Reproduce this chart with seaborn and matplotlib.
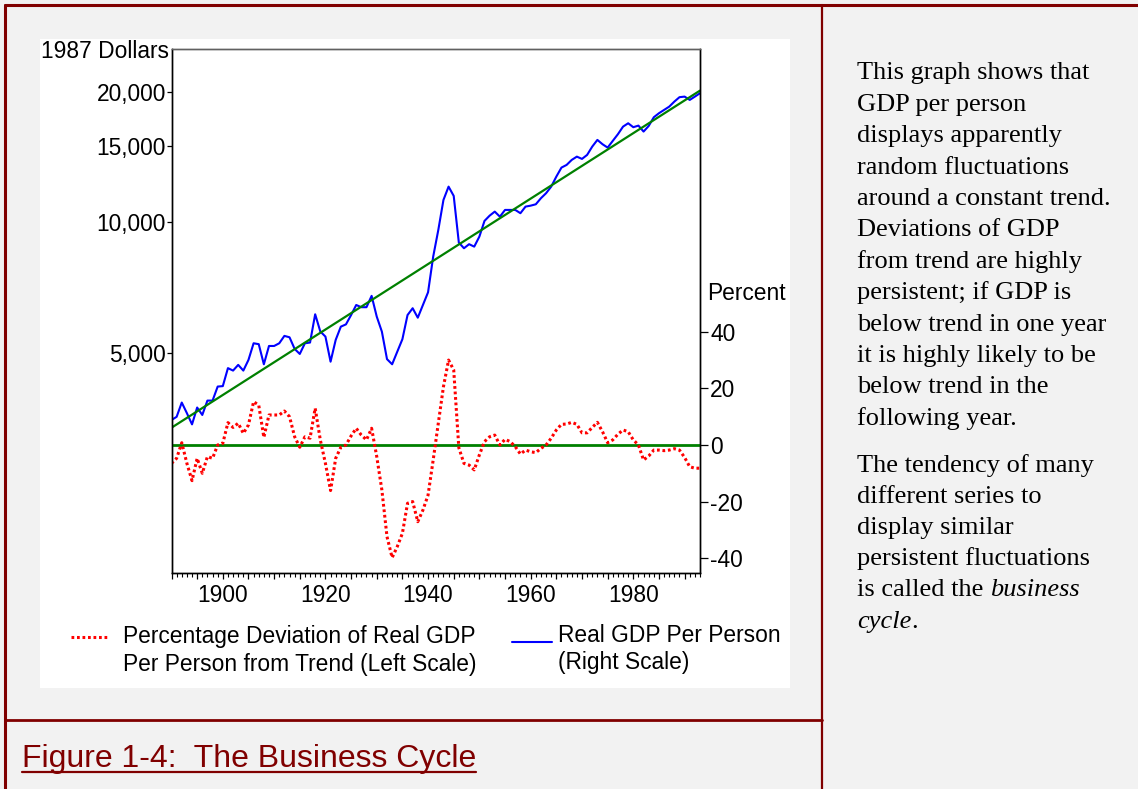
import matplotlib
matplotlib.use('Agg')
import matplotlib.pyplot as plt
import seaborn as sns
from matplotlib.lines import Line2D
from matplotlib.patches import Rectangle
from matplotlib.ticker import FixedLocator, FixedFormatter, MultipleLocator, NullLocator, FuncFormatter

# ---------------- data ----------------
years = list(range(1890, 1994))
gdp_per_person = [
    3500, 3560, 3840, 3630, 3420, 3740, 3595, 3880, 3880, 4180,   # 1890-1899
    4190, 4610, 4550, 4690, 4550, 4815, 5260, 5235, 4705, 5185,   # 1900-1909
    5185, 5260, 5470, 5430, 5105, 4970, 5260, 5280, 6135, 5600,   # 1910-1919
    5450, 4770, 5355, 5745, 5815, 6110, 6445, 6370, 6370, 6765,   # 1920-1929
    6060, 5595, 4835, 4705, 5030, 5375, 6110, 6335, 6025, 6445,   # 1930-1939
    6895, 8330, 9600, 11255, 12080, 11500, 8975, 8710, 8900, 8785,  # 1940-1949
    9265, 10070, 10355, 10580, 10300, 10675, 10675, 10675, 10490, 10865,  # 1950-1959
    10920, 11000, 11360, 11665, 12080, 12740, 13365, 13555, 13920, 14165,  # 1960-1969
    13995, 14295, 14940, 15480, 15130, 14860, 15400, 15955, 16610, 16910,  # 1970-1979
    16560, 16700, 16180, 16670, 17460, 17835, 18150, 18470, 18970, 19420,  # 1980-1989
    19480, 19140, 19480, 19835,                                            # 1990-1993
]
pct_deviation = [
    -6.5, -4.7, 0.8, -6.5, -12.6, -4.7, -10.0, -4.1, -4.7, 0.0,     # 1890-1899
    0.6, 7.9, 6.2, 7.7, 4.1, 7.1, 15.3, 14.1, 2.7, 10.6,            # 1900-1909
    10.6, 10.6, 12.0, 10.0, 2.9, -0.8, 2.9, 2.4, 13.0, 1.8,         # 1910-1919
    -6.5, -16.1, -4.7, -0.8, 0.0, 3.2, 5.9, 3.5, 1.8, 5.9,          # 1920-1929
    -4.1, -15.9, -32.4, -39.8, -35.9, -31.2, -20.6, -20.0, -27.1, -23.0,  # 1930-1939
    -17.7, -5.3, 7.7, 20.6, 30.0, 26.5, -1.0, -6.5, -7.1, -8.8,     # 1940-1949
    -3.5, 1.2, 2.9, 3.5, 0.0, 2.0, 1.2, -0.6, -3.2, -1.8,           # 1950-1959
    -2.4, -2.7, -1.2, 0.0, 2.4, 5.3, 7.3, 7.4, 8.0, 7.3,            # 1960-1969
    4.3, 4.3, 6.2, 8.0, 4.7, 0.8, 1.8, 3.8, 5.3, 4.7,               # 1970-1979
    1.8, 0.0, -5.3, -3.9, -1.8, -1.8, -2.0, -1.8, -1.3, -1.8,       # 1980-1989
    -4.4, -7.7, -8.2, -8.2,                                         # 1990-1993
]
trend_years = [1890, 1993]
trend_values = [3360, 20110]
zero_years = [1890, 1993]
zero_values = [0, 0]

left_ticks = [5000, 10000, 15000, 20000]
left_tick_labels = ['5,000', '10,000', '15,000', '20,000']
right_ticks = [-40, -20, 0, 20, 40]
x_label_every = 20

legend_red = ['Percentage Deviation of Real GDP', 'Per Person from Trend (Left Scale)']
legend_blue = ['Real GDP Per Person', '(Right Scale)']
title_text = 'Figure 1-4:  The Business Cycle'
side_lines_1 = ['This graph shows that', 'GDP per person', 'displays apparently',
                'random fluctuations', 'around a constant trend.', 'Deviations of GDP',
                'from trend are highly', 'persistent; if GDP is', 'below trend in one year',
                'it is highly likely to be', 'below trend in the', 'following year.']
side_lines_2 = ['The tendency of many', 'different series to', 'display similar',
                'persistent fluctuations']

# ---------------- figure ----------------
W, H = 1138, 789
sns.set_theme(style='white')
plt.rcParams['font.family'] = ['Liberation Sans', 'DejaVu Sans']
plt.rcParams['text.color'] = 'black'
plt.rcParams['xtick.color'] = 'black'
plt.rcParams['ytick.color'] = 'black'
plt.rcParams['axes.labelcolor'] = 'black'

fig = plt.figure(figsize=(W / 100, H / 100), dpi=100)
fig.patch.set_facecolor('#F2F2F2')

def fx(x):
    return x / W

def fy(y):
    return 1 - y / H

DARKRED = '#800000'
RED_DOTS = (0, (0.9, 0.9))

# white chart panel
fig.add_artist(Rectangle((fx(40), fy(688)), (790 - 40) / W, (688 - 39) / H,
                         transform=fig.transFigure, facecolor='white',
                         edgecolor='none', zorder=0))
# frame lines
for (x0, y0, x1, y1, lw) in [(5, 5, W, 5, 2.2), (5, 5, 5, H, 2.2),
                             (822, 5, 822, H, 1.6), (5, 720, 822, 720, 2.0)]:
    fig.add_artist(Line2D([fx(x0), fx(x1)], [fy(y0), fy(y1)], color=DARKRED,
                          lw=lw, transform=fig.transFigure, zorder=1))

L, R, T, B = 171.5, 700, 49, 572.5
ax = fig.add_axes([fx(L), fy(B), (R - L) / W, (B - T) / H])
ax.set_facecolor('white')
ax.set_yscale('log')

sns.lineplot(x=years, y=gdp_per_person, ax=ax, color='#0000FF', lw=1.5)
sns.lineplot(x=trend_years, y=trend_values, ax=ax, color='#008000', lw=1.6)
ax.set_xlim(1890, 1993)
ax.set_ylim(1558, 25080)

ax2 = ax.twinx()
sns.lineplot(x=zero_years, y=zero_values, ax=ax2, color='#008000', lw=2.0)
sns.lineplot(x=years, y=pct_deviation, ax=ax2, color='#FF0000', lw=2.2, linestyle=RED_DOTS)
ax2.set_ylim(-45.05, 139.9)
ax2.set_xlim(1890, 1993)

FS = 16.4
ax.yaxis.set_major_locator(FixedLocator(left_ticks))
ax.yaxis.set_major_formatter(FixedFormatter(left_tick_labels))
ax.yaxis.set_minor_locator(NullLocator())
ax.tick_params(axis='y', which='major', left=True, right=False, direction='out',
               length=3.6, width=0.9, pad=0.5, labelsize=FS, colors='black')

ax.xaxis.set_major_locator(MultipleLocator(5))
ax.xaxis.set_minor_locator(MultipleLocator(1))
ax.xaxis.set_major_formatter(FuncFormatter(lambda v, p: f'{int(round(v))}' if int(round(v)) % x_label_every == 0 else ''))
ax.tick_params(axis='x', which='major', bottom=True, top=False, direction='out',
               length=4.5, width=0.9, pad=4, labelsize=FS, colors='black')
ax.tick_params(axis='x', which='minor', bottom=True, top=False, direction='out',
               length=3, width=0.8, colors='black')

ax2.yaxis.set_major_locator(FixedLocator(right_ticks))
ax2.yaxis.set_major_formatter(FuncFormatter(lambda v, p: f'{int(v)}'))
ax2.tick_params(axis='y', which='major', right=True, left=False, direction='out',
                length=5.8, width=0.9, pad=1.5, labelsize=FS, colors='black')
ax.set_xlabel('')
ax.set_ylabel('')
ax2.set_ylabel('')
for a in (ax, ax2):
    for s in a.spines.values():
        s.set_visible(True)
        s.set_color('black')
        s.set_linewidth(1.0)
    a.spines['top'].set_color('#606060')
if ax.get_legend():
    ax.get_legend().remove()
if ax2.get_legend():
    ax2.get_legend().remove()

# axis captions
fig.text(fx(169), fy(52), '1987 Dollars', ha='right', va='center', fontsize=FS, color='black')
fig.text(fx(707), fy(293), 'Percent', ha='left', va='center', fontsize=FS, color='black')

# legend
fig.add_artist(Line2D([fx(71), fx(109)], [fy(637), fy(637)], color='#FF0000', lw=2.2,
                      linestyle=RED_DOTS, transform=fig.transFigure))
fig.text(fx(123), fy(637), legend_red[0], ha='left', va='center', fontsize=FS, color='black')
fig.text(fx(123), fy(665), legend_red[1], ha='left', va='center', fontsize=FS, color='black')
fig.add_artist(Line2D([fx(512), fx(552)], [fy(642), fy(642)], color='#0000FF', lw=1.5,
                      transform=fig.transFigure))
fig.text(fx(558), fy(635), legend_blue[0], ha='left', va='center', fontsize=FS, color='black')
fig.text(fx(558), fy(662), legend_blue[1], ha='left', va='center', fontsize=FS, color='black')

# title with underline
renderer = fig.canvas.get_renderer()
t = fig.text(fx(22), fy(767), title_text, ha='left', va='baseline', fontsize=23, color=DARKRED)
bb = t.get_window_extent(renderer)
fig.add_artist(Line2D([bb.x0 / W, bb.x1 / W], [fy(772), fy(772)], color=DARKRED, lw=1.6,
                      transform=fig.transFigure))

# side paragraph
SF = 19
serif = ['Liberation Serif', 'DejaVu Serif']
x_side = 857
for i, line in enumerate(side_lines_1):
    fig.text(fx(x_side), fy(79.3 + 31.4 * i), line, ha='left', va='baseline',
             fontsize=SF, family=serif, color='black')
for i, line in enumerate(side_lines_2):
    fig.text(fx(x_side), fy(471.7 + 31.2 * i), line, ha='left', va='baseline',
             fontsize=SF, family=serif, color='black')
y5 = 471.7 + 31.2 * 4
t1 = fig.text(fx(x_side), fy(y5), 'is called the ', ha='left', va='baseline',
              fontsize=SF, family=serif, color='black')
e1 = t1.get_window_extent(renderer)
fig.text(e1.x1 / W, fy(y5), 'business', ha='left', va='baseline', fontsize=SF,
         family=serif, style='italic', color='black')
y6 = 471.7 + 31.2 * 5
t2 = fig.text(fx(x_side), fy(y6), 'cycle', ha='left', va='baseline', fontsize=SF,
              family=serif, style='italic', color='black')
e2 = t2.get_window_extent(renderer)
fig.text(e2.x1 / W, fy(y6), '.', ha='left', va='baseline', fontsize=SF,
         family=serif, color='black')

fig.savefig('out.png', dpi=100, facecolor=fig.get_facecolor())
